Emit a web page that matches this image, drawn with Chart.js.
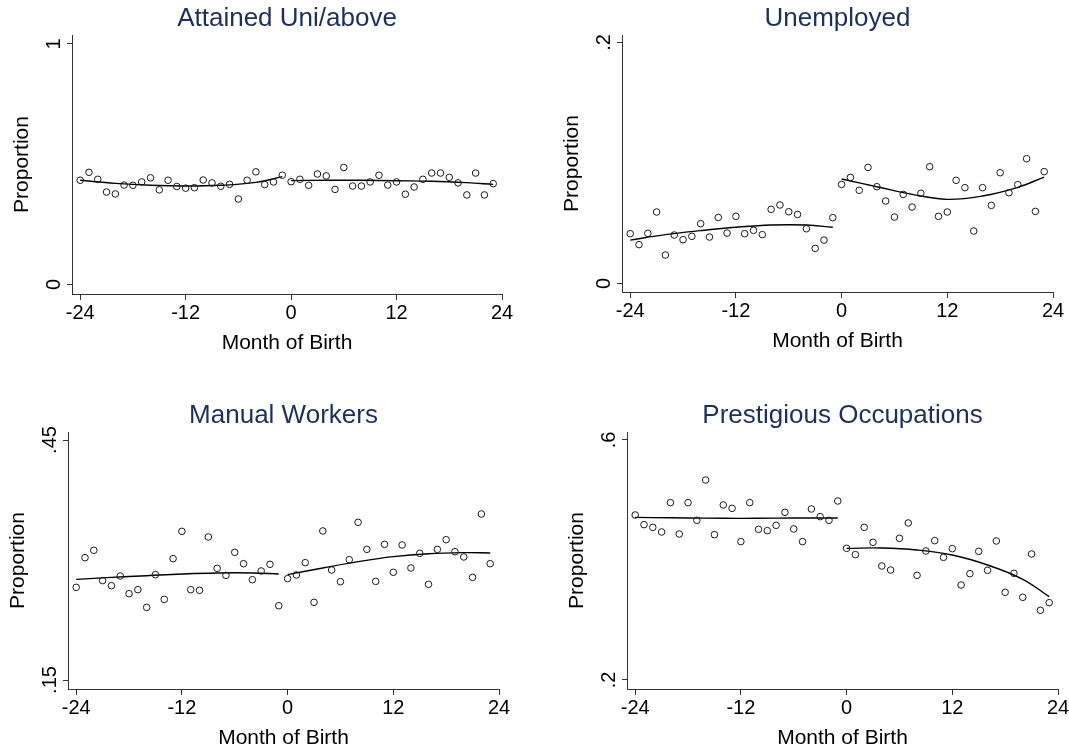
<!DOCTYPE html>
<html>
<head>
<meta charset="utf-8">
<title>Month of Birth RD</title>
<script src="https://cdn.jsdelivr.net/npm/chart.js@4.4.1/dist/chart.umd.min.js"></script>
<style>
  html, body { margin: 0; padding: 0; background: #fff; }
  #page { position: relative; width: 1069px; height: 751px; overflow: hidden; background: #fff; }
  #page canvas { position: absolute; }
</style>
</head>
<body>
<div id="page">
  <canvas id="c1" width="512" height="356" style="left:10px;top:0px"></canvas>
  <canvas id="c2" width="513" height="354" style="left:560px;top:0px"></canvas>
  <canvas id="c3" width="513" height="354" style="left:6px;top:397px"></canvas>
  <canvas id="c4" width="513" height="354" style="left:565px;top:397px"></canvas>
</div>
<script>
// month of birth relative to the cutoff
const months = [-24, -23, -22, -21, -20, -19, -18, -17, -16, -15, -14, -13,
                -12, -11, -10, -9, -8, -7, -6, -5, -4, -3, -2, -1,
                0, 1, 2, 3, 4, 5, 6, 7, 8, 9, 10, 11,
                12, 13, 14, 15, 16, 17, 18, 19, 20, 21, 22, 23];

// proportions by month
const attainedUni = [0.433, 0.466, 0.437, 0.384, 0.376, 0.413, 0.412, 0.426, 0.443, 0.393, 0.433, 0.407,
                     0.400, 0.402, 0.434, 0.422, 0.408, 0.416, 0.355, 0.433, 0.468, 0.415, 0.426, 0.454,
                     0.427, 0.437, 0.412, 0.459, 0.451, 0.395, 0.486, 0.409, 0.409, 0.426, 0.454, 0.413,
                     0.426, 0.375, 0.405, 0.437, 0.463, 0.463, 0.445, 0.422, 0.372, 0.463, 0.372, 0.419];

const unemployed = [0.0412, 0.0321, 0.0415, 0.0592, 0.0235, 0.0401, 0.0362, 0.0390, 0.0495, 0.0384, 0.0547, 0.0417,
                    0.0556, 0.0412, 0.0440, 0.0404, 0.0614, 0.0650, 0.0594, 0.0572, 0.0453, 0.0290, 0.0359, 0.0545,
                    0.0821, 0.0879, 0.0772, 0.0962, 0.0802, 0.0683, 0.0550, 0.0738, 0.0633, 0.0747, 0.0968, 0.0556,
                    0.0592, 0.0855, 0.0794, 0.0434, 0.0794, 0.0647, 0.0918, 0.0752, 0.0819, 0.1034, 0.0597, 0.0927];

const manualWorkers = [0.2658, 0.3029, 0.3121, 0.2742, 0.2679, 0.2800, 0.2579, 0.2629, 0.2408, 0.2817, 0.2508, 0.3017,
                       0.3358, 0.2629, 0.2621, 0.3288, 0.2896, 0.2808, 0.3096, 0.2954, 0.2754, 0.2863, 0.2946, 0.2429,
                       0.2767, 0.2813, 0.2967, 0.2471, 0.3363, 0.2875, 0.2729, 0.3004, 0.3471, 0.3133, 0.2733, 0.3196,
                       0.2846, 0.3188, 0.2900, 0.3083, 0.2696, 0.3133, 0.3254, 0.3104, 0.3038, 0.2783, 0.3575, 0.2954];

const prestigious = [0.4750, 0.4589, 0.4544, 0.4467, 0.4956, 0.4433, 0.4956, 0.4661, 0.5333, 0.4422, 0.4917, 0.4861,
                     0.4306, 0.4956, 0.4511, 0.4489, 0.4578, 0.4794, 0.4517, 0.4306, 0.4850, 0.4722, 0.4661, 0.4983,
                     0.4194, 0.4089, 0.4544, 0.4294, 0.3900, 0.3833, 0.4361, 0.4617, 0.3744, 0.4150, 0.4322, 0.4044,
                     0.4189, 0.3583, 0.3772, 0.4144, 0.3828, 0.4317, 0.3461, 0.3778, 0.3378, 0.4100, 0.3161, 0.3289];

// fitted curves, read at a few months on each side of the cutoff
const fitMonthsLeft = [-24, -20, -16, -12, -8, -4, -1];
const fitMonthsRight = [0, 4, 8, 12, 16, 20, 23];

const attainedFitL = [0.433, 0.420, 0.412, 0.409, 0.412, 0.424, 0.448];
const attainedFitR = [0.4315, 0.433, 0.433, 0.431, 0.429, 0.423, 0.416];
const unemployedFitL = [0.0359, 0.0404, 0.0437, 0.0465, 0.0484, 0.0484, 0.0465];
const unemployedFitR = [0.0866, 0.0802, 0.0738, 0.0697, 0.0725, 0.0797, 0.0882];
const manualFitL = [0.2758, 0.2783, 0.2804, 0.2825, 0.2838, 0.2838, 0.2825];
const manualFitR = [0.2817, 0.2900, 0.2979, 0.3042, 0.3079, 0.3092, 0.3088];
const prestigeFitL = [0.4711, 0.4703, 0.4697, 0.4694, 0.4697, 0.4700, 0.4700];
const prestigeFitR = [0.4194, 0.4200, 0.4167, 0.4083, 0.3917, 0.3678, 0.3389];

// axis ticks
const xTickValues = [-24, -12, 0, 12, 24];
const yTicksAttained = [0, 1];
const yLabelsAttained = ['0', '1'];
const yTicksUnemployed = [0, 0.2];
const yLabelsUnemployed = ['0', '.2'];
const yTicksManual = [0.15, 0.45];
const yLabelsManual = ['.15', '.45'];
const yTicksPrestige = [0.2, 0.6];
const yLabelsPrestige = ['.2', '.6'];

const FONT = '"Liberation Sans", Arial, Helvetica, sans-serif';
const TITLE_COLOR = '#1e3056';
const AXIS_COLOR = '#333333';

// stata style: y tick labels rotated (reading upwards), title centred on the plot region
function stataDecor(title, values, labels) {
    return {
        id: 'stataDecor',
        afterDraw(chart) {
            const scale = chart.scales.y;
            const area = chart.chartArea;
            const ctx = chart.ctx;
            ctx.save();
            ctx.font = '20px ' + FONT;
            ctx.fillStyle = '#000';
            ctx.textAlign = 'center';
            ctx.textBaseline = 'alphabetic';
            values.forEach((v, i) => {
                ctx.save();
                ctx.translate(scale.right - 12, scale.getPixelForValue(v));
                ctx.rotate(-Math.PI / 2);
                ctx.fillText(labels[i], 0, 0);
                ctx.restore();
            });
            ctx.font = '26px ' + FONT;
            ctx.fillStyle = TITLE_COLOR;
            ctx.textBaseline = 'middle';
            ctx.fillText(title, (area.left + area.right) / 2, area.top - 16);
            ctx.restore();
        }
    };
}

function makePanel(id, title, values, fitL, fitR, yTicks, yLabels, yMin, yMax) {
    new Chart(document.getElementById(id), {
        type: 'scatter',
        data: {
            datasets: [
                {
                    data: months.map((m, i) => ({ x: m, y: values[i] })),
                    pointRadius: 3.3,
                    pointHoverRadius: 3.3,
                    borderWidth: 1,
                    borderColor: '#1a1a1a',
                    backgroundColor: 'rgba(0,0,0,0)'
                },
                {
                    type: 'line',
                    data: fitMonthsLeft.map((m, i) => ({ x: m, y: fitL[i] })),
                    borderColor: '#000',
                    borderWidth: 1.4,
                    pointRadius: 0,
                    tension: 0.4,
                    fill: false
                },
                {
                    type: 'line',
                    data: fitMonthsRight.map((m, i) => ({ x: m, y: fitR[i] })),
                    borderColor: '#000',
                    borderWidth: 1.4,
                    pointRadius: 0,
                    tension: 0.4,
                    fill: false
                }
            ]
        },
        options: {
            responsive: false,
            animation: false,
            events: [],
            layout: { padding: { left: 0, top: 35, right: 20, bottom: 0 } },
            plugins: {
                legend: { display: false },
                tooltip: { enabled: false },
                title: { display: false }
            },
            scales: {
                x: {
                    type: 'linear',
                    min: -24.93,
                    max: 24,
                    afterBuildTicks: s => { s.ticks = xTickValues.map(v => ({ value: v })); },
                    afterFit: s => { s.height = 62; },
                    ticks: {
                        color: '#000',
                        font: { family: FONT, size: 20 },
                        padding: 1,
                        maxRotation: 0,
                        autoSkip: false,
                        callback: v => String(v)
                    },
                    grid: { drawOnChartArea: false, drawTicks: true, tickLength: 6, color: AXIS_COLOR },
                    border: { display: true, color: AXIS_COLOR, width: 1 },
                    title: {
                        display: true,
                        text: 'Month of Birth',
                        color: '#000',
                        font: { family: FONT, size: 21 },
                        padding: 0
                    }
                },
                y: {
                    type: 'linear',
                    min: yMin,
                    max: yMax,
                    afterBuildTicks: s => { s.ticks = yTicks.map(v => ({ value: v })); },
                    afterFit: s => { s.width = 62; },
                    ticks: { display: false },
                    grid: { drawOnChartArea: false, drawTicks: true, tickLength: 5, color: AXIS_COLOR },
                    border: { display: true, color: AXIS_COLOR, width: 1 },
                    title: {
                        display: true,
                        text: 'Proportion',
                        color: '#000',
                        font: { family: FONT, size: 21 },
                        padding: 0
                    }
                }
            }
        },
        plugins: [stataDecor(title, yTicks, yLabels)]
    });
}

makePanel('c1', 'Attained Uni/above', attainedUni, attainedFitL, attainedFitR,
          yTicksAttained, yLabelsAttained, -0.04, 1.037);
makePanel('c2', 'Unemployed', unemployed, unemployedFitL, unemployedFitR,
          yTicksUnemployed, yLabelsUnemployed, -0.0072, 0.2061);
makePanel('c3', 'Manual Workers', manualWorkers, manualFitL, manualFitR,
          yTicksManual, yLabelsManual, 0.13875, 0.46);
makePanel('c4', 'Prestigious Occupations', prestigious, prestigeFitL, prestigeFitR,
          yTicksPrestige, yLabelsPrestige, 0.185, 0.6133);
</script>
</body>
</html>
